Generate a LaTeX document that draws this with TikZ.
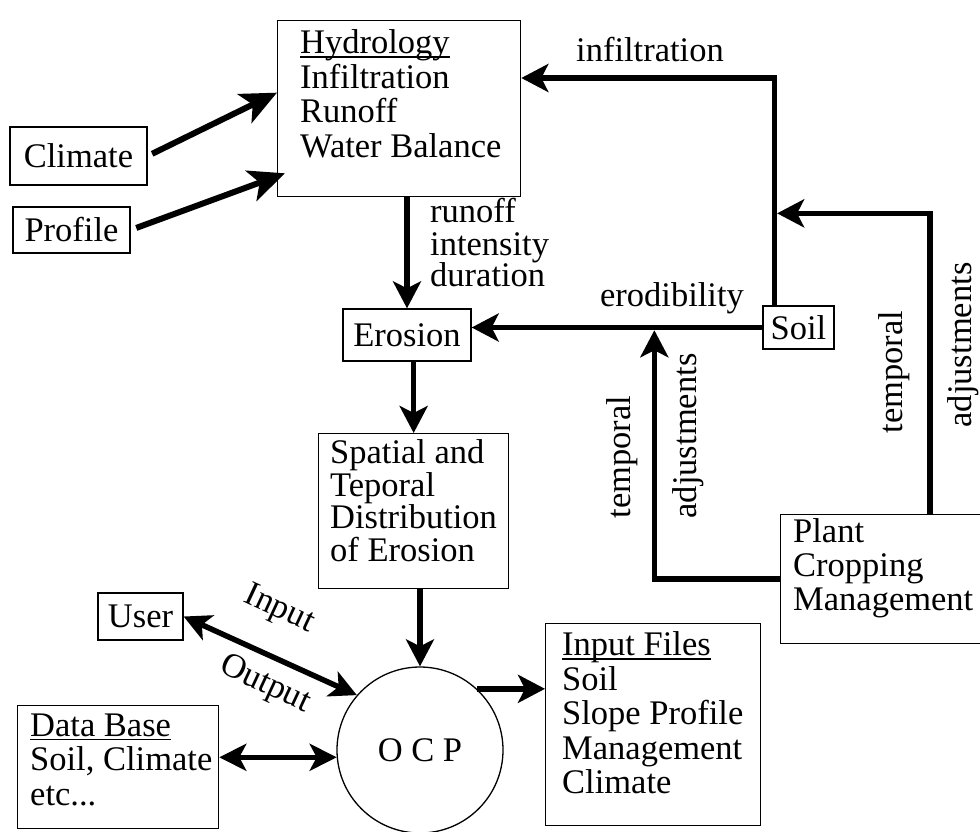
\documentclass[tikz,border=0pt]{standalone}
\usepackage{fontspec}
\setmainfont{Liberation Serif}
\usetikzlibrary{arrows.meta,calc}
% underline set close under the baseline
\newcommand\ulword[1]{\setbox0=\hbox{#1}\rlap{\rule[-4pt]{\wd0}{1.4pt}}\box0}
\begin{document}
\begin{tikzpicture}[x=1pt,y=-1pt,
  every node/.style={font=\fontsize{34.5}{34.5}\selectfont},
  box/.style={draw, line width=1.3pt, inner sep=0pt},
  lbl/.style={inner sep=0pt, align=left, anchor=north west},
  arr/.style={line width=5.5pt, -{Stealth[length=27pt,width=28pt,inset=7pt]}},
  bigarr/.style={line width=6pt, -{Stealth[length=36pt,width=32pt,inset=9pt]}},
  both/.style={line width=5.5pt, {Stealth[length=27pt,width=27pt,inset=7pt]}-{Stealth[length=27pt,width=27pt,inset=7pt]}}]
\useasboundingbox (0,0) rectangle (980,831);

% ---- boxes ----
\node[box, minimum width=243pt, minimum height=176pt, anchor=north west] (hyd) at (277,20) {};
\node[lbl] (hydtxt) at (300,29.5) {\ulword{Hydrology}\\Infiltration\\Runoff\\Water Balance};

\node[box, minimum width=137pt, minimum height=58pt] (climate) at (78.5,156) {Climate};
\node[box, minimum width=117pt, minimum height=46pt] (profile) at (71.5,230) {Profile};
\node[box, minimum width=128pt, minimum height=52pt] (erosion) at (407,335) {Erosion};

\node[box, minimum width=190pt, minimum height=155pt, anchor=north west] (spatial) at (318,433) {};
\node[lbl, font=\fontsize{34.5}{32.5}\selectfont] (spatialtxt) at (330,439.5) {Spatial and\\Teporal\\Distribution\\of Erosion};

\node[box, minimum width=71pt, minimum height=43pt] (soil) at (798.5,327.5) {Soil};

\node[box, minimum width=220pt, minimum height=129pt, anchor=north west] (plant) at (780,514) {};
\node[lbl, font=\fontsize{34.5}{34}\selectfont] (planttxt) at (793,518.5) {Plant\\Cropping\\Management};

\node[box, minimum width=85pt, minimum height=47pt] (user) at (140.5,616.5) {User};

\node[box, minimum width=201pt, minimum height=123pt, anchor=north west] (database) at (17,705) {};
\node[lbl] (dbtxt) at (30,713.5) {\ulword{Data Base}\\Soil, Climate\\etc...};

\node[box, minimum width=215pt, minimum height=202pt, anchor=north west] (inputfiles) at (545,623) {};
\node[lbl] (iftxt) at (562,631.5) {\ulword{Input Files}\\Soil\\Slope Profile\\Management\\Climate};

\node[circle, draw, line width=1.3pt, minimum size=166pt, inner sep=0pt] (ocp) at (420,750) {O C P};

% ---- connectors ----
\draw[bigarr, shorten <=5pt] (climate.east) -- ($(hyd.west)+(0,-16)$);
\draw[bigarr, shorten <=6pt] (profile.east) -- ($(hyd.south west)+(8,-24)$);

\draw[arr] (hyd.south -| erosion.north) -- (erosion.north);
\draw[arr] (erosion.south -| spatial.north) -- (spatial.north);
\draw[arr] (spatial.south -| ocp.north) -- (ocp.north);
\draw[arr] (ocp.47.5) -- (ocp.47.5 -| inputfiles.west);
\draw[both] (user.east) -- (ocp.139);
\draw[both] (ocp.185) -- (ocp.185 -| database.east);

\coordinate (sj) at ($(soil.north west)+(12,0)$);
\draw[arr] (soil.west) -- (soil.west -| erosion.east);
\draw[arr] (sj) |- ($(hyd.north east)+(0,58)$);

\coordinate (pt) at ($(plant.north west)+(150,0)$);
\draw[arr, shorten >=2.75pt] (pt) |- ($(sj)+(0,-92)$);
\draw[arr, shorten >=2.75pt] (plant.west) -| ($(soil.west)+(-108,0)$);

% ---- labels ----
\node[lbl, font=\fontsize{34.5}{32}\selectfont] (rid) at (430,198.5) {runoff\\intensity\\duration};
\node (infl) at (650,50) {infiltration};
\node (erod) at (672,298) {erodibility};
\node[rotate=90] (t1) at (622,457) {temporal};
\node[rotate=90] (a1) at (688,436) {adjustments};
\node[rotate=90] (t2) at (894,372) {temporal};
\node[rotate=90] (a2) at (963,345) {adjustments};
\node[rotate=-25] (inp) at (279,610) {Input};
\node[rotate=-25] (outp) at (265,685) {Output};
\end{tikzpicture}
\end{document}
